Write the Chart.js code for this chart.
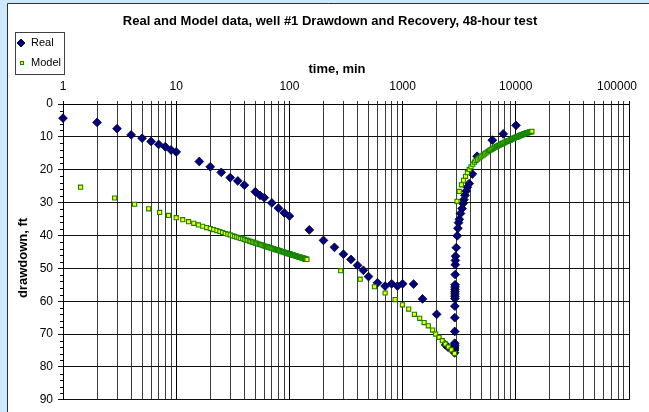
<!DOCTYPE html>
<html>
<head>
<meta charset="utf-8">
<script src="https://cdn.jsdelivr.net/npm/chart.js@4.4.1/dist/chart.umd.min.js"></script>
<style>
html,body{margin:0;padding:0;background:#fff;}
#c{display:block;}
</style>
</head>
<body>
<canvas id="c" width="649" height="412"></canvas>
<script>
// ---------- data ----------
const chartTitle = "Real and Model data, well #1 Drawdown and Recovery, 48-hour test";
const xTitle = "time, min";
const yTitle = "drawdown, ft";
const xLabelValues = [1, 10, 100, 1000, 10000, 100000];
const xGridValues = [1,2,3,4,5,6,7,8,9,10,20,30,40,50,60,70,80,90,100,200,300,400,500,600,700,800,900,
  1000,2000,3000,4000,5000,6000,7000,8000,9000,10000,20000,30000,40000,50000,60000,70000,80000,90000,100000];
const seriesNames = ["Real", "Model"];

// Real (measured) data: time (min) and drawdown (ft)
const realTime = [1,2,3,4,5,6,7,8,9,10,16,20,25,30,35,40,50,55,60,70,80,90,100,150,200,250,300,350,400,450,500,600,700,800,900,1000,1250,1500,2000,2400,2520,
  2880,2881,2882,2883,2884,2885,2887,2890,2893,2896,2898,2900,2902,2904,2906,2908,2915,2920,2925,2935,2980,3040,3080,3120,3170,3250,3350,3420,3480,3560,3640,3730,3880,4130,4550,6200,7740,10050];
const realDrawdown = [4.3,5.6,7.5,9.4,10.4,11.4,12.3,13.0,14.0,14.6,17.5,19.1,20.8,22.4,23.4,24.7,26.7,27.8,28.5,30.1,31.7,33.1,34.1,38.3,41.5,43.6,45.7,47.3,49.1,50.6,52.5,54.4,55.4,54.7,55.4,54.7,54.8,59.3,64.0,73.3,74.0,
  75.7,74.9,74.4,73.9,73.4,72.8,69.2,65.0,61.5,59.2,58.5,57.8,57.1,56.4,55.7,55.0,51.9,48.9,47.6,46.3,43.7,40.1,37.8,36.1,35.1,33.3,31.8,30.3,29.1,27.8,26.5,25.3,24.2,21.3,15.9,11.0,9.1,6.5];

// Model data: time (min) and drawdown (ft)
const modelTime = [1.43,2.86,4.29,5.71,7.14,8.57,10,11.43,12.86,14.29,15.71,17.14,18.57,20,21.43,22.86,24.29,25.71,27.14,28.57,30,
  31.43,32.86,34.29,35.71,37.14,38.57,40,41.43,42.86,44.29,45.71,47.14,48.57,50,51.43,52.86,54.29,55.71,57.14,58.57,60,
  61.43,62.86,64.29,65.71,67.14,68.57,70,71.43,72.86,74.29,75.71,77.14,78.57,80,81.43,82.86,84.29,85.71,87.14,88.57,90,
  91.43,92.86,94.29,95.71,97.14,98.57,100,101.43,102.86,104.29,105.71,107.14,108.57,110,111.43,112.86,114.29,115.71,117.14,118.57,120,
  121.43,122.86,124.29,125.71,127.14,128.57,130,131.43,132.86,134.29,135.71,137.14,138.57,140,141.43,142.86,
  284,422,564,701,859,996,1132,1271,1416,1549,1688,1844,1960,2099,2244,2383,2534,2693,2880,
  3023,3166,3309,3451,3594,3737,3880,4023,4166,4309,4451,4594,4737,4880,5023,5166,5309,5451,5594,5737,5880,
  6023,6166,6309,6451,6594,6737,6880,7023,7166,7309,7451,7594,7737,7880,8023,8166,8309,8451,8594,8737,8880,
  9023,9166,9309,9451,9594,9737,9880,10023,10166,10309,10451,10594,10737,10880,11023,11166,11309,11451,11594,11737,11880,
  12023,12166,12309,12451,12594,12737,12880,13023,13166,13309,13451,13594,13737,13880];
const modelDrawdown = [25.3,28.6,30.5,31.9,33.0,33.9,34.6,35.2,35.8,36.3,36.8,37.2,37.6,37.9,38.2,38.5,38.8,39.1,39.4,39.6,39.8,
  40.1,40.3,40.5,40.7,40.9,41.0,41.2,41.4,41.5,41.7,41.9,42.0,42.1,42.3,42.4,42.6,42.7,42.8,42.9,43.0,43.2,
  43.3,43.4,43.5,43.6,43.7,43.8,43.9,44.0,44.1,44.2,44.3,44.4,44.4,44.5,44.6,44.7,44.8,44.9,44.9,45.0,45.1,
  45.2,45.2,45.3,45.4,45.5,45.5,45.6,45.7,45.7,45.8,45.9,45.9,46.0,46.1,46.1,46.2,46.2,46.3,46.4,46.4,46.5,
  46.5,46.6,46.6,46.7,46.7,46.8,46.8,46.9,46.9,47.0,47.1,47.1,47.2,47.2,47.3,47.3,
  50.7,53.3,55.6,57.5,59.5,61.1,62.4,64.0,65.2,66.5,67.5,68.8,70.0,71.0,72.0,73.0,73.9,74.8,75.9,
  29.6,26.6,24.6,23.2,22.0,20.9,19.9,19.1,18.3,17.7,17.2,16.8,16.4,16.1,15.8,15.5,15.2,14.9,14.6,14.3,14.1,
  13.9,13.7,13.5,13.3,13.1,12.9,12.8,12.6,12.5,12.3,12.2,12.0,11.9,11.8,11.6,11.5,11.4,11.3,11.2,11.1,11.0,
  10.9,10.8,10.6,10.5,10.4,10.3,10.2,10.1,10.1,10.0,9.9,9.8,9.7,9.6,9.5,9.5,9.4,9.3,9.2,9.1,9.0,
  9.0,8.9,8.9,8.8,8.8,8.7,8.7,8.6,8.6,8.5,8.5,8.4,8.4,8.3];

// ---------- chart ----------
const FONT = "'Liberation Sans', Arial, sans-serif";
Chart.defaults.font.family = FONT;
Chart.defaults.color = '#000';

const toPoints = (xs, ys) => xs.map((x, i) => ({x: x, y: ys[i]}));
const isDecade = v => Math.abs(Math.log10(v) - Math.round(Math.log10(v))) < 1e-9;

const REAL_FILL = '#000080', REAL_EDGE = '#000020';
const MODEL_FILL = '#ffff00', MODEL_EDGE = '#128400';

const decor = {
  id: 'decor',
  beforeDraw(chart) {
    const c = chart.ctx, W = chart.width, H = chart.height;
    c.save();
    c.fillStyle = '#cce8ff';
    c.fillRect(0, 0, W, H);
    c.fillStyle = '#ffffff';
    c.fillRect(7, 3, W - 7, H - 3);
    c.strokeStyle = '#303030';
    c.lineWidth = 1;
    c.beginPath();
    c.moveTo(7.5, H); c.lineTo(7.5, 3.5); c.lineTo(W, 3.5);
    c.stroke();
    c.restore();
  },
  afterDraw(chart) {
    const c = chart.ctx;
    const xs = chart.scales.x, ys = chart.scales.y;
    const area = chart.chartArea;
    c.save();
    // title
    c.fillStyle = '#000';
    c.textAlign = 'center';
    c.textBaseline = 'middle';
    c.font = 'bold 13px ' + FONT;
    c.fillText(chartTitle, 330, 21);
    // x axis title
    c.fillText(xTitle, 337, 69);
    // x tick labels
    c.font = '12px ' + FONT;
    xLabelValues.forEach(v => {
      let px = xs.getPixelForValue(v);
      const w = c.measureText(String(v)).width;
      if (px + w / 2 > 637) px = 637 - w / 2;
      c.fillText(String(v), px, 87);
    });
    // y axis title
    c.save();
    c.translate(23, 258);
    c.rotate(-Math.PI / 2);
    c.font = 'bold 13px ' + FONT;
    c.fillText(yTitle, 0, 0);
    c.restore();
    // y minor ticks
    c.strokeStyle = '#000';
    c.lineWidth = 1;
    c.beginPath();
    for (let v = 2; v < 90; v += 2) {
      if (v % 10 === 0) continue;
      const py = Math.round(ys.getPixelForValue(v)) + 0.5;
      c.moveTo(area.left - 3, py); c.lineTo(area.left, py);
    }
    c.stroke();
    // legend
    c.strokeStyle = '#404040';
    c.strokeRect(15.5, 32.5, 49, 42);
    // diamond
    c.beginPath();
    c.moveTo(21, 39); c.lineTo(25, 43); c.lineTo(21, 47); c.lineTo(17, 43); c.closePath();
    c.fillStyle = REAL_FILL; c.fill();
    c.strokeStyle = REAL_EDGE; c.stroke();
    // square
    c.fillStyle = MODEL_FILL;
    c.fillRect(20, 61, 4, 4);
    c.strokeStyle = MODEL_EDGE;
    c.strokeRect(20.5, 61.5, 3, 3);
    c.fillStyle = '#000';
    c.textAlign = 'left';
    c.font = '11px ' + FONT;
    c.fillText(seriesNames[0], 31, 43);
    c.fillText(seriesNames[1], 31, 63);
    c.restore();
  }
};

new Chart(document.getElementById('c'), {
  type: 'scatter',
  data: {
    datasets: [
      {
        label: seriesNames[1],
        data: toPoints(modelTime, modelDrawdown),
        pointStyle: 'rect',
        pointRadius: 2.9,
        backgroundColor: MODEL_FILL,
        borderColor: MODEL_EDGE,
        borderWidth: 1.1,
        clip: false
      },
      {
        label: seriesNames[0],
        data: toPoints(realTime, realDrawdown),
        pointStyle: 'rectRot',
        pointRadius: 4.4,
        backgroundColor: REAL_FILL,
        borderColor: REAL_EDGE,
        borderWidth: 0.8,
        clip: false
      }
    ]
  },
  options: {
    responsive: false,
    animation: false,
    events: [],
    layout: { padding: { left: 8, top: 80, right: 20, bottom: 8 } },
    plugins: { legend: { display: false }, title: { display: false }, tooltip: { enabled: false } },
    scales: {
      x: {
        type: 'logarithmic',
        position: 'top',
        min: 1,
        max: 100000,
        afterBuildTicks: s => { s.ticks = xGridValues.map(v => ({ value: v, major: isDecade(v) })); },
        afterFit: s => { s.height = 24; },
        ticks: { display: false, autoSkip: false },
        grid: {
          color: ctx => (ctx.tick && isDecade(ctx.tick.value)) ? '#000000' : '#3c3c3c',
          tickLength: 3,
          lineWidth: 1
        },
        border: { color: '#000', width: 1 }
      },
      y: {
        type: 'linear',
        reverse: true,
        min: 0,
        max: 90,
        afterFit: s => { s.width = 55; },
        ticks: { stepSize: 10, color: '#000', font: { size: 12, family: FONT }, padding: 5 },
        grid: { color: '#111111', tickLength: 5, lineWidth: 1 },
        border: { color: '#000', width: 1 }
      }
    }
  },
  plugins: [decor]
});
</script>
</body>
</html>
